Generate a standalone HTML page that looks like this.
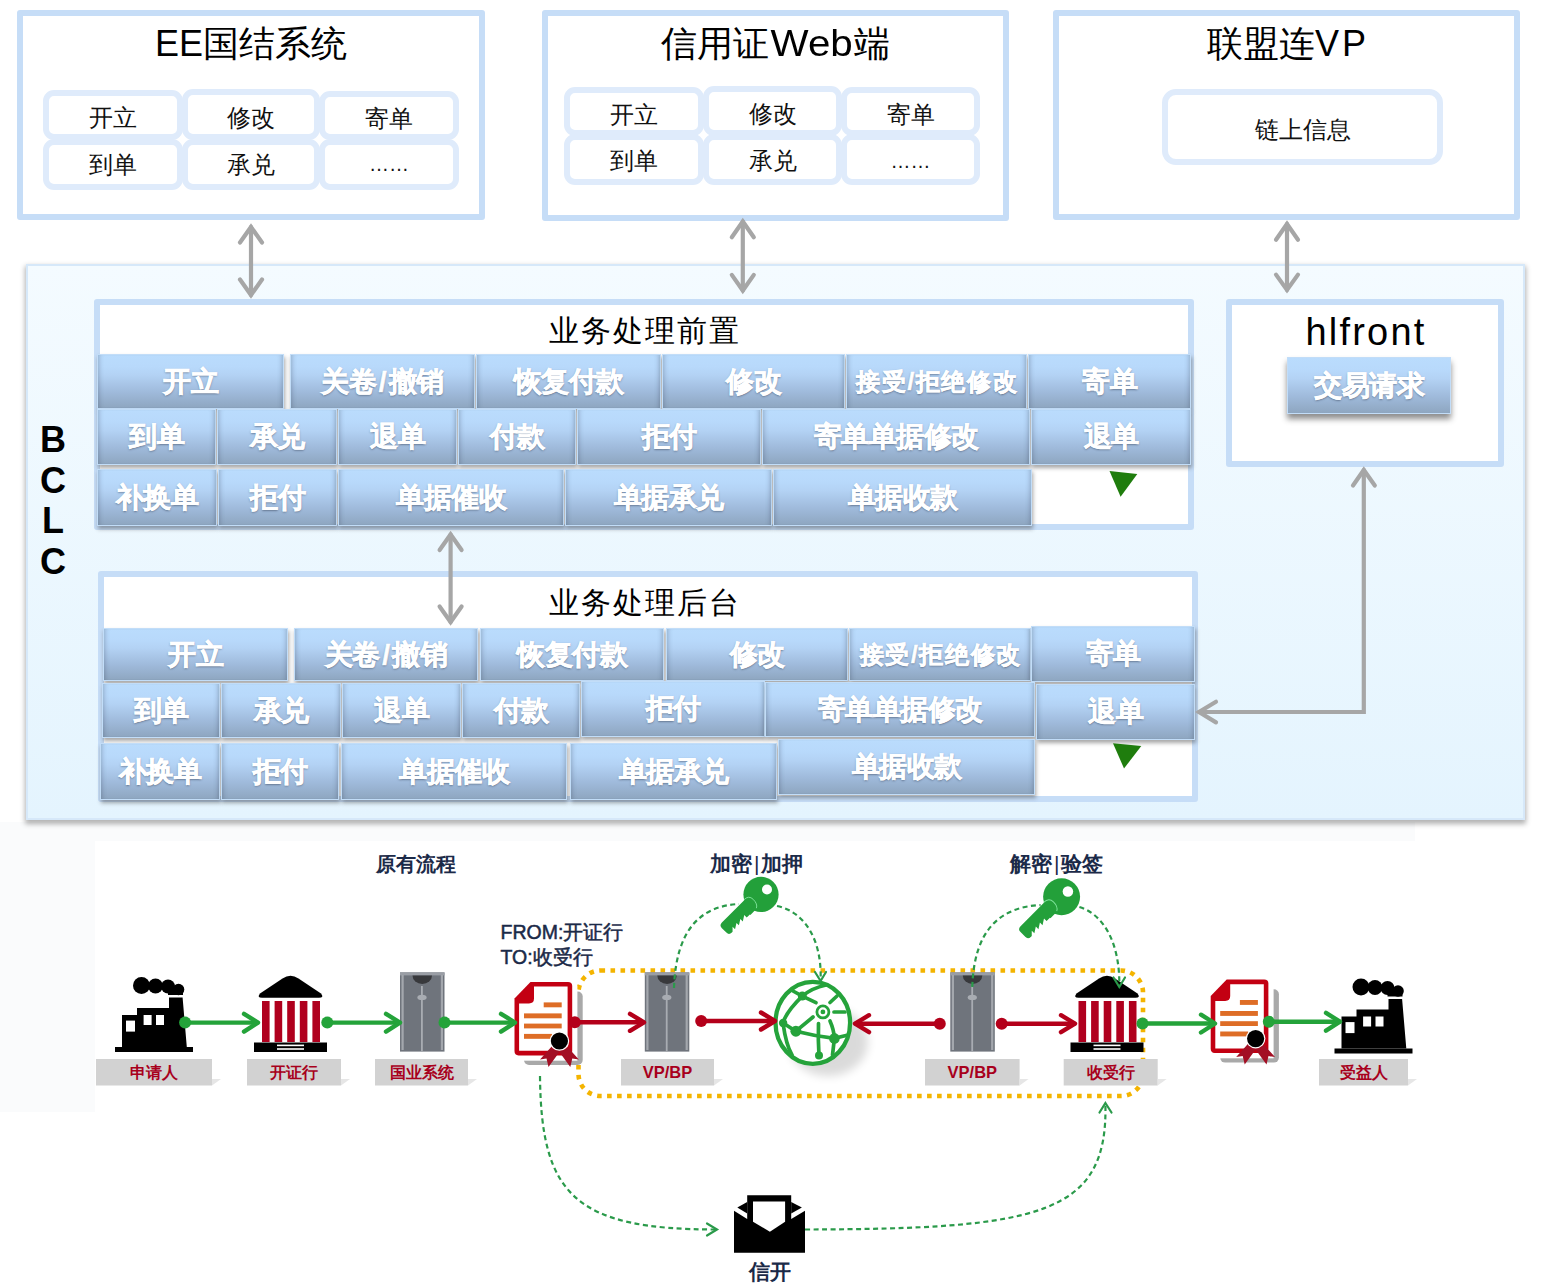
<!DOCTYPE html>
<html><head><meta charset="utf-8">
<style>
*{box-sizing:border-box;margin:0;padding:0}
html,body{width:1544px;height:1286px;overflow:hidden;background:#fff;font-family:"Liberation Sans",sans-serif}
.a{position:absolute}
.ob{position:absolute;border:6px solid #c6ddf7;border-radius:3px;background:#fff}
.ttl{position:absolute;left:0;right:0;text-align:center;color:#000;white-space:nowrap}
.ic{position:absolute;border:6px solid #dfebfb;border-radius:11px;background:#fff;display:flex;align-items:center;justify-content:center;font-size:24px;color:#111;padding-top:6px}
.c{position:absolute;border:1px solid #c2ddf8;background:linear-gradient(to bottom,#badcfd 0%,#b8d9fb 22%,#b3d2f4 38%,#9fbadb 70%,#8ea6c0 100%);box-shadow:1px 3px 4px rgba(60,60,60,.45),inset 5px 0 5px -4px rgba(40,50,70,.28),inset -5px 0 5px -4px rgba(40,50,70,.28);color:#fff;font-weight:bold;font-size:28px;display:flex;align-items:center;justify-content:center;text-shadow:0 1px 2px rgba(40,50,70,.55);-webkit-text-stroke:0.6px #fff;white-space:nowrap;letter-spacing:-0.5px}
</style></head><body>

<div class="a" style="left:0;top:822px;width:1415px;height:19px;background:#fafbfc"></div>
<div class="a" style="left:0;top:822px;width:95px;height:290px;background:#fafbfc"></div>
<!-- top boxes -->
<div class="ob" style="left:17px;top:10px;width:468px;height:210px">
  <div class="ttl" style="top:4px;font-size:36px">EE国结系统</div>
</div>
<div class="ic" style="left:43px;top:90px;width:140px;height:50px">开立</div>
<div class="ic" style="left:182px;top:89px;width:138px;height:51px">修改</div>
<div class="ic" style="left:319px;top:91px;width:140px;height:49px">寄单</div>
<div class="ic" style="left:43px;top:139px;width:140px;height:51px;padding-top:0">到单</div>
<div class="ic" style="left:182px;top:139px;width:138px;height:51px;padding-top:0">承兑</div>
<div class="ic" style="left:319px;top:139px;width:140px;height:51px;font-size:20px;padding-top:0">……</div>

<div class="ob" style="left:542px;top:10px;width:467px;height:211px">
  <div class="ttl" style="top:4px;font-size:36px">信用证<span style="display:inline-block;transform:scaleX(1.12);margin:0 6px">Web</span>端</div>
</div>
<div class="ic" style="left:564px;top:87px;width:140px;height:49px">开立</div>
<div class="ic" style="left:703px;top:86px;width:139px;height:50px">修改</div>
<div class="ic" style="left:841px;top:87px;width:139px;height:49px">寄单</div>
<div class="ic" style="left:564px;top:134px;width:140px;height:51px;padding-top:3px">到单</div>
<div class="ic" style="left:703px;top:134px;width:139px;height:51px;padding-top:3px">承兑</div>
<div class="ic" style="left:841px;top:134px;width:139px;height:51px;font-size:20px;padding-top:3px">……</div>

<div class="ob" style="left:1053px;top:10px;width:467px;height:210px">
  <div class="ttl" style="top:4px;font-size:36px">联盟连<span style="letter-spacing:3px">V</span>P</div>
</div>
<div class="ic" style="left:1162px;top:89px;width:281px;height:76px;border-radius:14px">链上信息</div>

<!-- BCLC -->
<div class="a" style="left:26px;top:264px;width:1499px;height:556px;border:2px solid #d6e8f9;background:linear-gradient(to bottom,#f4fbff,#e4f4fe);box-shadow:0 3px 5px 1px rgba(0,0,0,.3)"></div>
<div class="a" style="left:38px;top:420px;width:30px;font-size:36px;font-weight:bold;line-height:40.5px;text-align:center">B<br>C<br>L<br>C</div>

<!-- front box -->
<div class="ob" style="left:94px;top:299px;width:1100px;height:231px">
  <div class="ttl" style="top:6px;font-size:30px;letter-spacing:2px;text-indent:2px">业务处理前置</div>
</div>
<div id="front">
<div class="c" style="left:97px;top:354px;width:187px;height:55px">开立</div>
<div class="c" style="left:290px;top:354px;width:185px;height:55px">关卷<span style="margin:0 2.5px">/</span>撤销</div>
<div class="c" style="left:476px;top:354px;width:185px;height:55px">恢复付款</div>
<div class="c" style="left:662px;top:354px;width:183px;height:55px">修改</div>
<div class="c" style="left:846px;top:354px;width:181px;height:55px;font-size:24px;letter-spacing:1.6px;text-indent:1.6px">接受/拒绝修改</div>
<div class="c" style="left:1028px;top:354px;width:163px;height:55px">寄单</div>
<div class="c" style="left:97px;top:409px;width:119px;height:56px">到单</div>
<div class="c" style="left:217px;top:409px;width:120px;height:56px">承兑</div>
<div class="c" style="left:338px;top:409px;width:119px;height:56px">退单</div>
<div class="c" style="left:458px;top:409px;width:118px;height:56px">付款</div>
<div class="c" style="left:577px;top:409px;width:184px;height:56px">拒付</div>
<div class="c" style="left:762px;top:409px;width:268px;height:56px">寄单单据修改</div>
<div class="c" style="left:1031px;top:409px;width:160px;height:56px">退单</div>
<div class="c" style="left:97px;top:469px;width:120px;height:57px">补换单</div>
<div class="c" style="left:218px;top:469px;width:119px;height:57px">拒付</div>
<div class="c" style="left:338px;top:469px;width:226px;height:57px">单据催收</div>
<div class="c" style="left:565px;top:469px;width:207px;height:57px">单据承兑</div>
<div class="c" style="left:773px;top:469px;width:259px;height:57px">单据收款</div>
</div>

<!-- hlfront -->
<div class="ob" style="left:1226px;top:299px;width:278px;height:168px">
  <div class="ttl" style="top:6px;font-size:38px;letter-spacing:2.2px;text-indent:2px">hlfront</div>
</div>
<div class="c" style="left:1287px;top:357px;width:164px;height:57px;box-shadow:0 5px 6px rgba(0,0,0,.45)">交易请求</div>

<!-- back box -->
<div class="ob" style="left:98px;top:571px;width:1100px;height:231px">
  <div class="ttl" style="top:6px;left:-9px;font-size:30px;letter-spacing:2px;text-indent:2px">业务处理后台</div>
</div>
<div id="back">
<div class="c" style="left:103px;top:628px;width:185px;height:53px">开立</div>
<div class="c" style="left:294px;top:628px;width:184px;height:53px">关卷<span style="margin:0 2.5px">/</span>撤销</div>
<div class="c" style="left:480px;top:628px;width:184px;height:53px">恢复付款</div>
<div class="c" style="left:666px;top:628px;width:182px;height:53px">修改</div>
<div class="c" style="left:849px;top:628px;width:182px;height:53px;font-size:24px;letter-spacing:1.6px;text-indent:1.6px">接受/拒绝修改</div>
<div class="c" style="left:1031px;top:626px;width:164px;height:56px">寄单</div>
<div class="c" style="left:102px;top:683px;width:118px;height:55px">到单</div>
<div class="c" style="left:221px;top:683px;width:120px;height:55px">承兑</div>
<div class="c" style="left:342px;top:683px;width:119px;height:55px">退单</div>
<div class="c" style="left:462px;top:683px;width:118px;height:55px">付款</div>
<div class="c" style="left:581px;top:681px;width:184px;height:56px">拒付</div>
<div class="c" style="left:765px;top:682px;width:270px;height:55px">寄单单据修改</div>
<div class="c" style="left:1036px;top:684px;width:159px;height:56px">退单</div>
<div class="c" style="left:100px;top:743px;width:120px;height:57px">补换单</div>
<div class="c" style="left:221px;top:743px;width:118px;height:57px">拒付</div>
<div class="c" style="left:341px;top:743px;width:226px;height:57px">单据催收</div>
<div class="c" style="left:570px;top:743px;width:207px;height:57px">单据承兑</div>
<div class="c" style="left:778px;top:739px;width:257px;height:56px">单据收款</div>
</div>

<svg class="a" style="left:0;top:0" width="1544" height="1286" viewBox="0 0 1544 1286">
<g fill="none" stroke="#a6a6a6" stroke-width="4.2" stroke-linecap="round" stroke-linejoin="miter">
 <path d="M251,227 V295"/><path d="M240,242.5 L251,227 L262,242.5"/><path d="M240,279.5 L251,295 L262,279.5"/>
 <path d="M742.8,221.5 V290.5"/><path d="M731.8,237.2 L742.8,221.5 L753.8,237.2"/><path d="M731.8,274.9 L742.8,290.5 L753.8,274.9"/>
 <path d="M1287,224 V290"/><path d="M1276,239.7 L1287,224 L1298,239.7"/><path d="M1276,274.6 L1287,290 L1298,274.6"/>
 <path d="M450.6,534.5 V622"/><path d="M439.6,550 L450.6,534.5 L461.6,550"/><path d="M439.6,606.5 L450.6,622 L461.6,606.5"/>
 <path d="M1363.8,470 V712 H1199"/><path d="M1353,485.5 L1363.8,470 L1374.8,485.5"/><path d="M1216,701.8 L1199,712 L1216,722.4"/>
</g>
<path d="M1109.5,471 L1137.3,474 L1120.6,496.7 Z" fill="#1f7d0d"/>
<path d="M1113,743.2 L1141.3,746 L1124,768.5 Z" fill="#1f7d0d"/>
</svg>

<!-- FLOW -->
<svg class="a" style="left:0;top:0" width="1544" height="1286" viewBox="0 0 1544 1286">
<defs>
 <g id="factory">
  <rect x="115" y="1047" width="78" height="5"/>
  <path d="M122,1047 V1015 H137 V1008 H169 V997.5 H182.6 L186.8,1047 Z"/>
  <rect x="126" y="1020.6" width="9" height="11" fill="#fff"/>
  <rect x="143.6" y="1015" width="8" height="10" fill="#fff"/>
  <rect x="156" y="1015" width="8" height="10" fill="#fff"/>
  <circle cx="141.5" cy="985.5" r="8.5"/><circle cx="155.5" cy="986" r="7.5"/><circle cx="168" cy="986.5" r="7"/><circle cx="178.5" cy="989.5" r="5.8"/>
  <rect x="168" y="990" width="15" height="5"/>
 </g>
 <g id="bank">
  <path d="M262,997.8 Q256.5,997.8 260,993.5 L282.5,978.5 Q290.5,973.2 298.5,978.5 L321,993.5 Q324.5,997.8 319,997.8 Z"/>
  <g fill="#b0001e">
   <rect x="262" y="1001" width="7.6" height="41"/><rect x="274.6" y="1001" width="7.6" height="41"/><rect x="287.2" y="1001" width="7.6" height="41"/><rect x="299.8" y="1001" width="7.6" height="41"/><rect x="312.4" y="1001" width="7.6" height="41"/>
  </g>
  <rect x="254" y="1042.5" width="73" height="9.5"/>
  <rect x="277" y="1044.6" width="27" height="1.6" fill="#fff"/><rect x="277" y="1048.2" width="27" height="1.6" fill="#fff"/>
 </g>
 <g id="server">
  <rect x="400" y="972.4" width="44.5" height="79.2" fill="#6f747c"/>
  <rect x="400" y="972.4" width="44.5" height="3" fill="#9a9ea5"/>
  <rect x="401.5" y="975" width="2.2" height="75" fill="#a3a7ad"/>
  <rect x="440.8" y="975" width="2.2" height="75" fill="#a3a7ad"/>
  <path d="M412.5,975.4 H432 A9.75,8.5 0 0 1 412.5,975.4 Z" fill="#38393c"/>
  <rect x="421" y="986" width="1.8" height="65" fill="#a8acb2"/>
  <ellipse cx="422" cy="997.4" rx="4.6" ry="2.6" fill="#a8acb2"/>
 </g>
 <g id="cert">
  <rect x="524" y="991.6" width="58.7" height="73.4" rx="5" fill="#a9a9a9"/>
  <rect x="519" y="986" width="58.4" height="74.7" fill="#fff"/>
  <path d="M530.5,982 H568 Q572.2,982 572.2,986 V1051 Q572.2,1055.4 568,1055.4 H518.5 Q514.5,1055.4 514.5,1051 V998.5 Z" fill="#c30012"/>
  <path d="M534,986.6 H567.6 V1050.8 H519.1 V1003.4 H529 Q534,1003.4 534,998.5 Z" fill="#fff"/>
  <g fill="#de6d26">
   <rect x="543.7" y="1002.4" width="18" height="4.9"/><rect x="524" y="1013.4" width="37.7" height="4.9"/><rect x="524" y="1023.6" width="37.7" height="4.8"/><rect x="524" y="1033.9" width="28" height="4.9"/>
  </g>
  <path d="M553,1045 L540,1059.5 L546.5,1058.5 L548.5,1067 L559.4,1052 L570.3,1067 L572.3,1058.5 L578.8,1059.5 L565.8,1045 Z" fill="#a30f24"/>
  <circle cx="559.4" cy="1041" r="9.8" fill="#fff"/>
  <circle cx="559.4" cy="1041" r="8.6" fill="#000"/>
 </g>
 <g id="key">
  <path transform="rotate(135)" d="M6,7.8 H47.5 Q51.5,7.8 51.5,3.8 V-2.5 Q51.5,-6.3 47.5,-6.3 H46.5 L43,-2.8 V-6.3 L37.5,-2.8 V-6.3 L32,-2.8 V-6.3 L26.5,-2.8 V-6.3 L22,-6.3 V-7 H6 Z"/>
  <circle cx="0" cy="0" r="17.6"/>
  <path transform="rotate(135)" d="M16,8.3 Q9,8.3 9,2 Q9,-4.5 13,-6.5" fill="none" stroke="#7ee39a" stroke-width="0.9"/>
  <circle cx="6" cy="-4.9" r="5" fill="#fff"/>
 </g>
 <g id="lbl">
  <path d="M0,0 H116 V26.5 H0 Z" fill="#d2d2d2"/>
 </g>
</defs>

<!-- yellow dotted box -->
<rect x="578.5" y="970.5" width="564.5" height="125.5" rx="22" fill="none" stroke="#f4b400" stroke-width="4.6" stroke-dasharray="4.6 5.4"/>
<!-- factory 1 & 2 -->
<use href="#factory" fill="#000"/>
<use href="#factory" fill="#000" transform="translate(1219.5,1.5)"/>
<!-- banks -->
<use href="#bank" fill="#000"/>
<use href="#bank" fill="#000" transform="translate(816.5,0)"/>
<!-- servers -->
<use href="#server"/>
<use href="#server" transform="translate(244.8,0)"/>
<use href="#server" transform="translate(550.3,0)"/>
<!-- certs -->
<use href="#cert"/>
<use href="#cert" transform="translate(696.2,-2.4)"/>

<!-- labels -->
<g fill="#d2d2d2">
 <path d="M96,1059 H212 V1085.5 H96 Z"/><path d="M212,1085.5 L221,1079 L212,1079 Z" fill="#e6e6e6"/>
 <path d="M247,1059 H341 V1085.5 H247 Z"/><path d="M341,1085.5 L350,1079 L341,1079 Z" fill="#e6e6e6"/>
 <path d="M375,1059 H468 V1085.5 H375 Z"/><path d="M468,1085.5 L477,1079 L468,1079 Z" fill="#e6e6e6"/>
 <path d="M621,1059 H714 V1085.5 H621 Z"/><path d="M714,1085.5 L723,1079 L714,1079 Z" fill="#e6e6e6"/>
 <path d="M925,1059 H1019.6 V1085.5 H925 Z"/><path d="M1019.6,1085.5 L1028.6,1079 L1019.6,1079 Z" fill="#e6e6e6"/>
 <path d="M1063.7,1059 H1157.7 V1085.5 H1063.7 Z"/><path d="M1157.7,1085.5 L1166.7,1079 L1157.7,1079 Z" fill="#e6e6e6"/>
 <path d="M1319,1059 H1408 V1085.5 H1319 Z"/><path d="M1408,1085.5 L1417,1079 L1408,1079 Z" fill="#e6e6e6"/>
</g>
<g font-family="Liberation Sans, sans-serif" font-weight="bold" font-size="15.5" fill="#a8001c" text-anchor="middle">
 <text x="154" y="1078">申请人</text>
 <text x="294" y="1078">开证行</text>
 <text x="421.5" y="1078">国业系统</text>
 <text x="667.5" y="1078" font-size="16.5">VP/BP</text>
 <text x="972.3" y="1078" font-size="16.5">VP/BP</text>
 <text x="1110.7" y="1078">收受行</text>
 <text x="1363.5" y="1078">受益人</text>
</g>

<!-- globe -->
<filter id="blur6" x="-50%" y="-50%" width="200%" height="200%"><feGaussianBlur stdDeviation="5"/></filter>
<ellipse cx="828" cy="1042" rx="40" ry="34" fill="#000" opacity="0.14" filter="url(#blur6)"/>
<ellipse cx="812.8" cy="1022.8" rx="37.3" ry="41" fill="#fff"/>
<g fill="none" stroke="#25a33b" stroke-width="4.3" stroke-linecap="round">
 <ellipse cx="812.8" cy="1022.8" rx="37.3" ry="41"/>
 <path d="M793,991 L802.3,996.1 L816,1002.7" stroke-width="3.7"/>
 <path d="M802.3,996.1 Q812,988 826,985" stroke-width="3.7"/>
 <path d="M802.3,996.1 Q786,1012 783,1023 Q786,1045 792,1055" stroke-width="3.7"/>
 <path d="M795.9,1031.2 L813,1017" stroke-width="3.7"/>
 <path d="M783.1,1023 L795.9,1031.2 Q815,1036 834.4,1038.4 L846,1035.5" stroke-width="3.7"/>
 <path d="M830,1021 Q834,1030 834.4,1038.4 L832.5,1055" stroke-width="3.7"/>
 <path d="M818.5,1023.5 Q818,1040 819,1056" stroke-width="3.7"/>
 <path d="M830,1002.5 L837,996" stroke-width="3.7"/>
 <path d="M834,1012 H845" stroke-width="3.7"/>
 <circle cx="822.9" cy="1011.9" r="6" stroke-width="2.8"/>
</g>
<g fill="#25a33b">
 <circle cx="802.3" cy="996.1" r="4.5"/><circle cx="783.1" cy="1023" r="4.2"/><circle cx="795.9" cy="1031.2" r="5.5"/><circle cx="834.4" cy="1038.4" r="5.3"/><circle cx="819" cy="1055.5" r="4"/><circle cx="822.9" cy="1011.9" r="2.4"/>
</g>


<!-- green solid connectors -->
<g stroke="#24a33a" stroke-width="4.4" fill="none" stroke-linecap="round" stroke-linejoin="round">
 <path d="M185,1022.6 H257"/><path d="M244,1013.8 L258,1022.6 L244,1031.6"/>
 <path d="M327.3,1022.6 H399"/><path d="M386,1013.8 L400,1022.6 L386,1031.6"/>
 <path d="M444.5,1022.6 H514"/><path d="M501,1013.8 L515,1022.6 L501,1031.6"/>
 <path d="M1142.7,1023.5 H1214"/><path d="M1201,1014.7 L1215,1023.5 L1201,1032.5"/>
 <path d="M1268.8,1021.7 H1339"/><path d="M1326,1012.9 L1340,1021.7 L1326,1030.7"/>
</g>
<g fill="#24a33a">
 <circle cx="185.1" cy="1022.6" r="6"/><circle cx="327.3" cy="1022.6" r="6"/><circle cx="444.5" cy="1022.6" r="6"/>
 <circle cx="1142.5" cy="1023.5" r="6"/><circle cx="1268.8" cy="1021.7" r="6"/>
</g>
<!-- red connectors -->
<g stroke="#b4001a" stroke-width="4.4" fill="none" stroke-linecap="round" stroke-linejoin="round">
 <path d="M574.8,1022.3 H643"/><path d="M630,1013.8 L644,1022.3 L630,1030.8"/>
 <path d="M701.2,1021 H774"/><path d="M761,1012.5 L775,1021 L761,1029.5"/>
 <path d="M939.8,1023.7 H856"/><path d="M869,1015.2 L855,1023.7 L869,1032.2"/>
 <path d="M1001.7,1023.7 H1074"/><path d="M1061,1015.2 L1075,1023.7 L1061,1032.2"/>
</g>
<g fill="#b4001a">
 <circle cx="574.8" cy="1022.3" r="6"/><circle cx="701.2" cy="1021" r="6"/><circle cx="939.8" cy="1023.7" r="6"/><circle cx="1001.7" cy="1023.7" r="6"/>
</g>

<!-- keys -->
<use href="#key" fill="#23a03a" transform="translate(761,894.4)"/>
<use href="#key" fill="#23a03a" transform="translate(1061.6,896.7) scale(1.05)"/>

<!-- dashed curves -->
<g fill="none" stroke="#2a9a4a" stroke-width="2.2" stroke-dasharray="5 3.5">
 <path d="M674,988 C676,930 700,906 739,904"/>
 <path d="M777,906 C805,912 822,940 820.6,980"/>
 <path d="M972.3,987 C974,930 1000,907 1040.6,905"/>
 <path d="M1079.4,907 C1105,915 1120,945 1119.3,986"/>
 <path d="M540,1076 C541,1195 575,1229.5 716,1229.5"/>
 <path d="M805,1229.5 C1040,1229 1108,1215 1105.4,1104"/>
</g>
<g fill="none" stroke="#2a9a4a" stroke-width="2.2" stroke-linecap="round">
 <path d="M815,972 L820.6,981 L826,972"/>
 <path d="M1113.5,977.5 L1119.3,987 L1125,977.5"/>
 <path d="M707,1223.5 L717,1229.5 L707,1235.5"/>
 <path d="M1099.5,1112.5 L1105.4,1103 L1111.5,1112.5"/>
</g>

<!-- envelope -->
<path d="M734,1210.8 L747.2,1219 V1195.2 H791.2 V1219 L805,1210.8 V1252.7 H734 Z" fill="#000"/>
<path d="M753,1201.6 H785.1 V1221.8 L769.9,1231.7 L753,1221.8 Z" fill="#fff"/>
<path d="M737.3,1207.5 L747.2,1202 V1213.5 Z" fill="#000"/>
<path d="M801.9,1207.5 L791.2,1202 V1213.5 Z" fill="#000"/>

<!-- texts -->
<g font-family="Liberation Sans, sans-serif" font-weight="bold" fill="#1b2a48">
 <text x="376" y="870.5" font-size="20.2">原有流程</text>
 <text x="710" y="871" font-size="21">加密<tspan font-weight="normal" dx="2">|</tspan><tspan dx="2">加押</tspan></text>
 <text x="1010" y="870.5" font-size="21">解密<tspan font-weight="normal" dx="2">|</tspan><tspan dx="2">验签</tspan></text>
 <text x="749" y="1279" font-size="21">信开</text>
</g>
<g font-family="Liberation Sans, sans-serif" fill="#1b2a48" font-size="19.5" stroke="#1b2a48" stroke-width="0.5">
 <text x="500.5" y="938.5">FROM:开证行</text>
 <text x="500.5" y="964.3">TO:收受行</text>
</g>
</svg>

<!-- /FLOW -->
</body></html>
